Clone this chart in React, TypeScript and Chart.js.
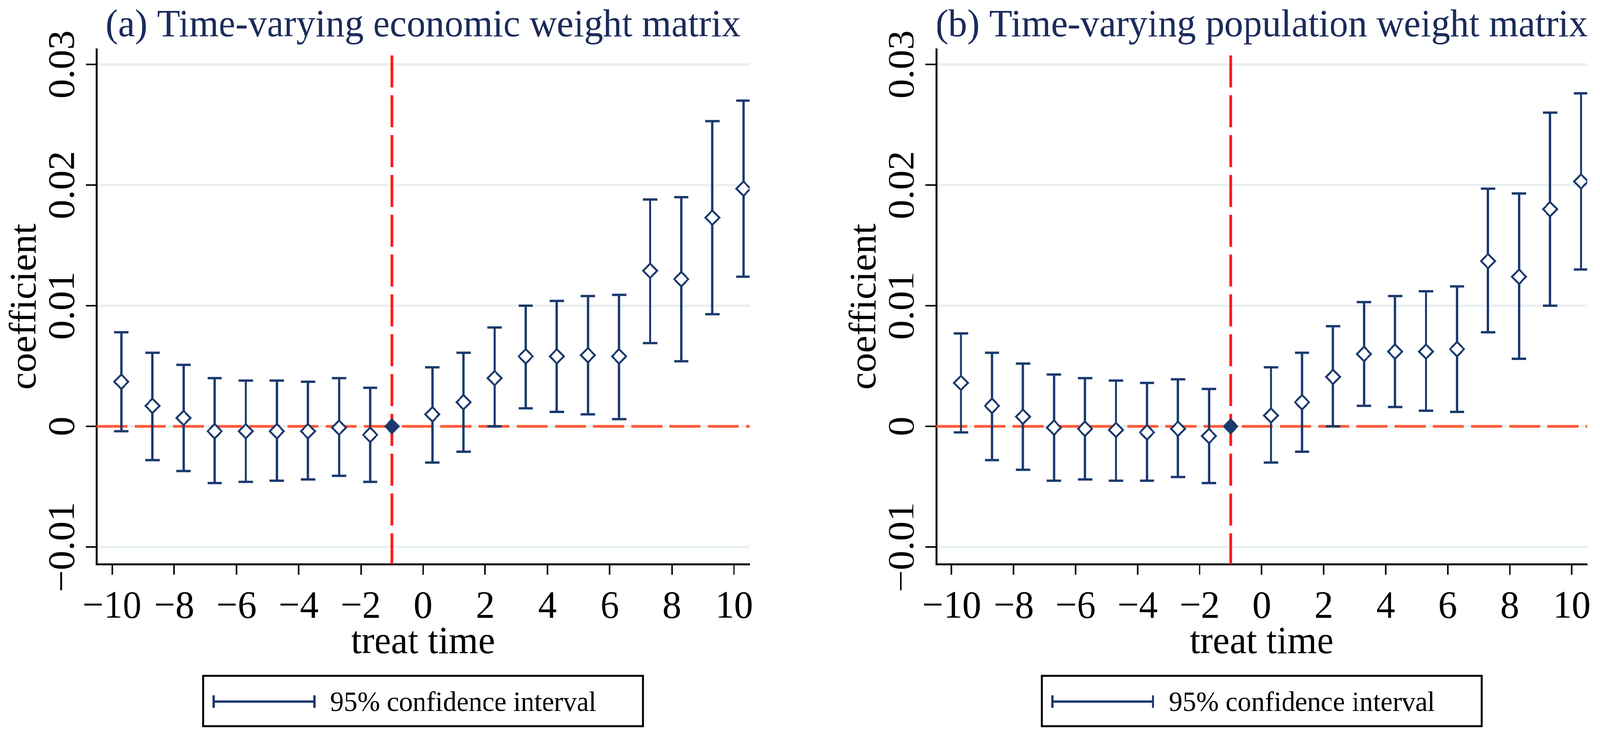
import React, { useEffect, useRef, useState } from 'react';
import { Chart, registerables } from 'chart.js';

Chart.register(...registerables);

// ---------- data ----------
const periods = [-10, -9, -8, -7, -6, -5, -4, -3, -2, -1, 0, 1, 2, 3, 4, 5, 6, 7, 8, 9, 10];
const xPositions = [-9.7, -8.7, -7.7, -6.7, -5.7, -4.7, -3.7, -2.7, -1.7, -1, 0.3, 1.3, 2.3, 3.3, 4.3, 5.3, 6.3, 7.3, 8.3, 9.3, 10.3];
const baseIndex = 9; // period -1 is the reference (filled marker, no interval)

const coefA = [0.0037, 0.0017, 0.0007, -0.0004, -0.0004, -0.0004, -0.0004, -0.0001, -0.0007, 0, 0.001, 0.002, 0.0040, 0.0058, 0.0058, 0.0059, 0.0058, 0.0129, 0.0122, 0.0173, 0.0197];
const upperA = [0.0078, 0.0061, 0.0051, 0.0040, 0.0038, 0.0038, 0.0037, 0.0040, 0.0032, null, 0.0049, 0.0061, 0.0082, 0.0100, 0.0104, 0.0108, 0.0109, 0.0188, 0.0190, 0.0253, 0.0270];
const lowerA = [-0.0004, -0.0028, -0.0037, -0.0047, -0.0046, -0.0045, -0.0044, -0.0041, -0.0046, null, -0.0030, -0.0021, 0.0000, 0.0015, 0.0012, 0.0010, 0.0006, 0.0069, 0.0054, 0.0093, 0.0124];

const coefB = [0.0036, 0.0017, 0.0008, -0.0001, -0.0002, -0.0003, -0.0005, -0.0002, -0.0008, 0, 0.0009, 0.0020, 0.0041, 0.0060, 0.0062, 0.0062, 0.0064, 0.0137, 0.0124, 0.0180, 0.0203];
const upperB = [0.0077, 0.0061, 0.0052, 0.0043, 0.0040, 0.0038, 0.0036, 0.0039, 0.0031, null, 0.0049, 0.0061, 0.0083, 0.0103, 0.0108, 0.0112, 0.0116, 0.0197, 0.0193, 0.0260, 0.0276];
const lowerB = [-0.0005, -0.0028, -0.0036, -0.0045, -0.0044, -0.0045, -0.0045, -0.0042, -0.0047, null, -0.0030, -0.0021, 0.0000, 0.0017, 0.0016, 0.0013, 0.0012, 0.0078, 0.0056, 0.0100, 0.0130];

const xTickValues = [-10, -8, -6, -4, -2, 0, 2, 4, 6, 8, 10];
const xTickLabels = ['\u221210', '\u22128', '\u22126', '\u22124', '\u22122', '0', '2', '4', '6', '8', '10'];
const yTickValues = [-0.01, 0, 0.01, 0.02, 0.03];
const yTickLabels = ['\u22120.01', '0', '0.01', '0.02', '0.03'];

const titleA = '(a) Time-varying economic weight matrix';
const titleB = '(b) Time-varying population weight matrix';
const xAxisTitle = 'treat time';
const yAxisTitle = 'coefficient';
const legendLabel = '95% confidence interval';
const refLineX = -1;
const refLineY = 0;
const xRange = [-10.5, 10.5];
const yRange = [-0.01142, 0.03126];

// ---------- style ----------
const FONT = '"Liberation Serif", "Times New Roman", Times, serif';
const NAVY = '#1a3a6e';
const TITLE_NAVY = '#1b2b5b';
const GRID = '#e8f0f2';
const H_RED = '#ff5a3a';
const V_RED = '#ff1a1a';
const W = 4230;
const H = 1880;

type PanelProps = {
  title: string;
  coef: number[];
  lower: (number | null)[];
  upper: (number | null)[];
  left: number;
  width: number;
};

function makeDecor(title: string, lower: (number | null)[], upper: (number | null)[]) {
  return {
    id: 'stataDecor',
    beforeDatasetsDraw(chart: any) {
      const { ctx, chartArea: ca, scales } = chart;
      const x = scales.x;
      const y = scales.y;
      ctx.save();
      ctx.beginPath();
      ctx.rect(ca.left, ca.top, ca.right - ca.left, ca.bottom - ca.top);
      ctx.clip();
      // horizontal reference line
      const y0 = y.getPixelForValue(refLineY);
      ctx.strokeStyle = H_RED;
      ctx.lineWidth = 7;
      ctx.setLineDash([82, 19]);
      ctx.lineDashOffset = 0;
      ctx.beginPath();
      ctx.moveTo(ca.left, y0);
      ctx.lineTo(ca.right, y0);
      ctx.stroke();
      // vertical reference line
      const x0 = x.getPixelForValue(refLineX);
      ctx.strokeStyle = V_RED;
      ctx.lineWidth = 7;
      ctx.setLineDash([82, 20]);
      ctx.lineDashOffset = 86;
      ctx.beginPath();
      ctx.moveTo(x0, ca.top);
      ctx.lineTo(x0, ca.bottom);
      ctx.stroke();
      ctx.setLineDash([]);
      // confidence intervals
      ctx.strokeStyle = NAVY;
      ctx.lineWidth = 6;
      ctx.lineCap = 'butt';
      const cap = 19;
      for (let i = 0; i < xPositions.length; i++) {
        const lo = lower[i];
        const hi = upper[i];
        if (lo == null || hi == null) continue;
        const px = x.getPixelForValue(xPositions[i]);
        const pl = y.getPixelForValue(lo);
        const ph = y.getPixelForValue(hi);
        ctx.beginPath();
        ctx.moveTo(px, pl);
        ctx.lineTo(px, ph);
        ctx.moveTo(px - cap, pl);
        ctx.lineTo(px + cap, pl);
        ctx.moveTo(px - cap, ph);
        ctx.lineTo(px + cap, ph);
        ctx.stroke();
      }
      ctx.restore();
    },
    afterDraw(chart: any) {
      const { ctx, chartArea: ca, scales } = chart;
      const y = scales.y;
      const cx = (ca.left + ca.right) / 2;
      const cy = (ca.top + ca.bottom) / 2;
      ctx.save();
      // title
      ctx.fillStyle = TITLE_NAVY;
      ctx.font = `100px ${FONT}`;
      ctx.textAlign = 'center';
      ctx.textBaseline = 'alphabetic';
      ctx.fillText(title, cx, 93);
      // y tick labels (rotated, Stata style)
      ctx.fillStyle = '#000';
      ctx.font = `100px ${FONT}`;
      y.ticks.forEach((t: any) => {
        const idx = yTickValues.indexOf(t.value);
        const label = idx >= 0 ? yTickLabels[idx] : String(t.value);
        const py = y.getPixelForValue(t.value);
        ctx.save();
        ctx.translate(195, py);
        ctx.rotate(-Math.PI / 2);
        ctx.textAlign = 'center';
        ctx.textBaseline = 'alphabetic';
        ctx.fillText(label, 0, 0);
        ctx.restore();
      });
      // y axis title
      ctx.save();
      ctx.translate(94, cy);
      ctx.rotate(-Math.PI / 2);
      ctx.textAlign = 'center';
      ctx.textBaseline = 'alphabetic';
      ctx.fillText(yAxisTitle, 0, 0);
      ctx.restore();
      // x axis title
      ctx.textAlign = 'center';
      ctx.textBaseline = 'alphabetic';
      ctx.fillText(xAxisTitle, cx, 1673);
      // legend box
      const boxW = 1163;
      const bx = cx - boxW / 2;
      const by = 1731;
      const bh = 129;
      ctx.strokeStyle = '#000';
      ctx.lineWidth = 5;
      ctx.strokeRect(bx, by, boxW, bh);
      const ly = 1797;
      ctx.strokeStyle = NAVY;
      ctx.lineWidth = 6;
      ctx.beginPath();
      ctx.moveTo(bx + 28, ly);
      ctx.lineTo(bx + 294, ly);
      ctx.moveTo(bx + 28, ly - 16);
      ctx.lineTo(bx + 28, ly + 16);
      ctx.moveTo(bx + 294, ly - 16);
      ctx.lineTo(bx + 294, ly + 16);
      ctx.stroke();
      ctx.fillStyle = '#000';
      ctx.font = `72px ${FONT}`;
      ctx.textAlign = 'left';
      ctx.fillText(legendLabel, bx + 336, 1821);
      ctx.restore();
    },
  };
}

function Panel({ title, coef, lower, upper, left, width }: PanelProps) {
  const ref = useRef<HTMLCanvasElement | null>(null);
  useEffect(() => {
    if (!ref.current) return;
    const hollow = xPositions
      .map((xv, i) => ({ x: xv, y: coef[i], i }))
      .filter((p) => p.i !== baseIndex)
      .map((p) => ({ x: p.x, y: p.y }));
    const base = [{ x: xPositions[baseIndex], y: coef[baseIndex] }];
    const chart = new Chart(ref.current, {
      type: 'scatter',
      data: {
        datasets: [
          {
            label: 'coefficient',
            data: hollow,
            pointStyle: 'rectRot',
            pointRadius: 18.5,
            pointBorderWidth: 5,
            pointBackgroundColor: '#ffffff',
            pointBorderColor: NAVY,
            showLine: false,
          },
          {
            label: 'base period',
            data: base,
            pointStyle: 'rectRot',
            pointRadius: 18,
            pointBorderWidth: 4,
            pointBackgroundColor: NAVY,
            pointBorderColor: NAVY,
            showLine: false,
          },
        ],
      },
      options: {
        animation: false,
        responsive: false,
        devicePixelRatio: 1,
        events: [],
        layout: { padding: { top: 126, left: 0, right: width - 1982, bottom: 0 } },
        plugins: {
          legend: { display: false },
          tooltip: { enabled: false },
          title: { display: false },
        },
        scales: {
          x: {
            type: 'linear',
            min: xRange[0],
            max: xRange[1],
            afterBuildTicks: (s: any) => {
              s.ticks = xTickValues.map((v) => ({ value: v }));
            },
            afterFit: (s: any) => {
              s.height = H - 1445;
            },
            grid: {
              drawOnChartArea: false,
              drawTicks: true,
              tickLength: 27,
              tickColor: '#000',
              tickWidth: 4,
            },
            border: { display: true, color: '#000', width: 5 },
            ticks: {
              font: { family: FONT, size: 100, lineHeight: 1.2 },
              color: '#000',
              padding: 24,
              maxRotation: 0,
              minRotation: 0,
              autoSkip: false,
              callback: (v: any) => {
                const idx = xTickValues.indexOf(Number(v));
                return idx >= 0 ? xTickLabels[idx] : String(v);
              },
            },
          },
          y: {
            type: 'linear',
            min: yRange[0],
            max: yRange[1],
            afterBuildTicks: (s: any) => {
              s.ticks = yTickValues.map((v) => ({ value: v }));
            },
            afterFit: (s: any) => {
              s.width = 255;
            },
            grid: {
              drawOnChartArea: true,
              color: GRID,
              lineWidth: 6,
              drawTicks: true,
              tickLength: 28,
              tickColor: '#000',
              tickWidth: 4,
            },
            border: { display: true, color: '#000', width: 5 },
            ticks: { display: false },
          },
        },
      } as any,
      plugins: [makeDecor(title, lower, upper)],
    });
    return () => chart.destroy();
  }, []);
  return (
    <canvas
      ref={ref}
      width={width}
      height={H}
      style={{ position: 'absolute', left, top: 0, width, height: H }}
    />
  );
}

export default function App() {
  const [scale, setScale] = useState<[number, number]>([1, 1]);
  useEffect(() => {
    document.body.style.margin = '0';
    document.body.style.overflow = 'hidden';
    document.body.style.background = '#ffffff';
    const vw = document.documentElement.clientWidth || window.innerWidth || W;
    const vh = document.documentElement.clientHeight || window.innerHeight || H;
    const sx = Math.min(1, vw / W);
    const sy = Math.min(1, vh / H);
    setScale([sx, sy]);
  }, []);
  return (
    <div
      style={{
        position: 'relative',
        width: W,
        height: H,
        background: '#ffffff',
        overflow: 'hidden',
        transform: `scale(${scale[0]}, ${scale[1]})`,
        transformOrigin: '0 0',
      }}
    >
      <Panel title={titleA} coef={coefA} lower={lowerA} upper={upperA} left={0} width={2110} />
      <Panel title={titleB} coef={coefB} lower={lowerB} upper={upperB} left={2220} width={2010} />
    </div>
  );
}
